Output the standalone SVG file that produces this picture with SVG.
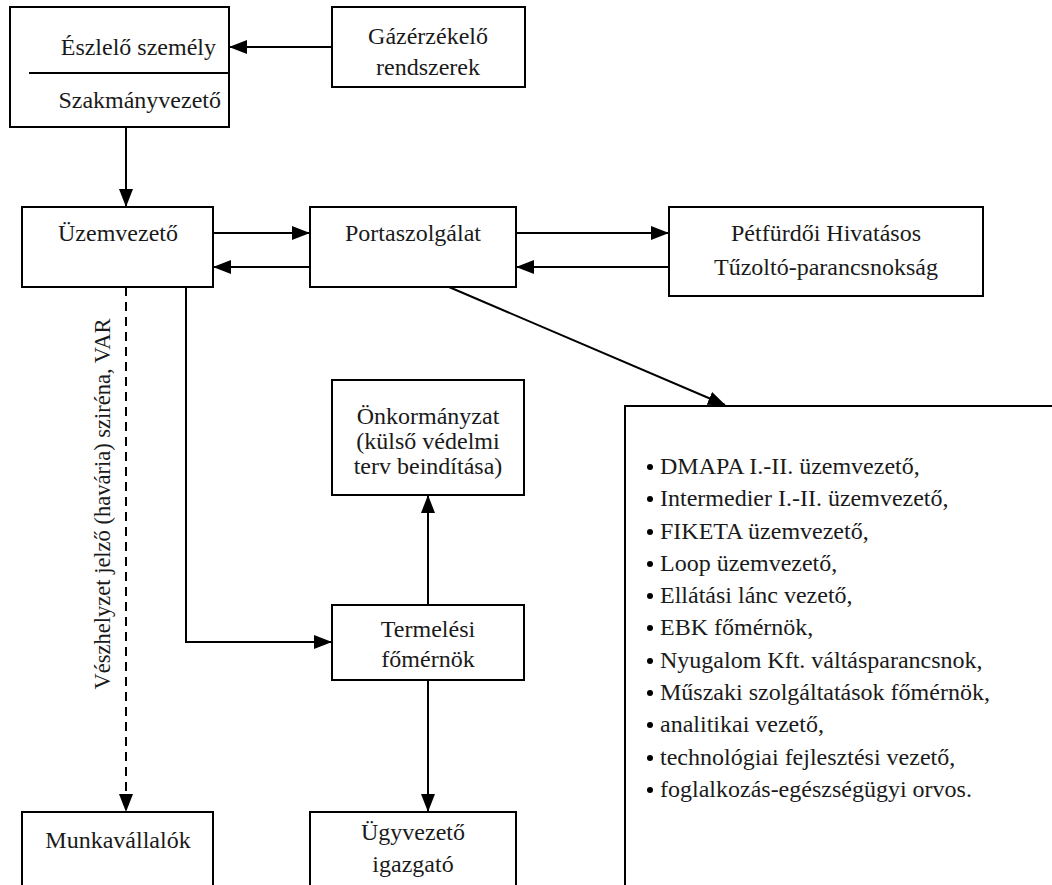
<svg xmlns="http://www.w3.org/2000/svg" width="1052" height="885" viewBox="0 0 1052 885" font-family="Liberation Serif, Times New Roman, serif">
<style>
.box{fill:#fff;stroke:#000;stroke-width:2}
.t{font-family:'Liberation Serif','Times New Roman',serif;font-size:24px;fill:#1a1a1a}
.m{text-anchor:middle}
.e{text-anchor:end}
.c{fill:none;stroke:#000;stroke-width:2}
.d{stroke-dasharray:9,6}
</style>
<defs>
<marker id="ah" markerUnits="userSpaceOnUse" markerWidth="18" markerHeight="16" refX="17" refY="8" orient="auto">
<path d="M0,1 L18,8 L0,15 Z" fill="#000"/>
</marker>
</defs>
<rect width="1052" height="885" fill="#fff"/>
<g id="connectors">
<line class="c" x1="332" y1="47" x2="230" y2="47" marker-end="url(#ah)"/>
<line class="c" x1="126" y1="127" x2="126" y2="206" marker-end="url(#ah)"/>
<line class="c" x1="213" y1="233" x2="309" y2="233" marker-end="url(#ah)"/>
<line class="c" x1="310" y1="267" x2="214" y2="267" marker-end="url(#ah)"/>
<line class="c" x1="516" y1="233" x2="668" y2="233" marker-end="url(#ah)"/>
<line class="c" x1="669" y1="267" x2="517" y2="267" marker-end="url(#ah)"/>
<line class="c" x1="449" y1="287" x2="725" y2="405" marker-end="url(#ah)"/>
<line class="c d" x1="126" y1="287" x2="126" y2="811" marker-end="url(#ah)"/>
<polyline class="c" points="186,287 186,642 331,642" marker-end="url(#ah)"/>
<line class="c" x1="428" y1="605" x2="428" y2="496" marker-end="url(#ah)"/>
<line class="c" x1="428" y1="680" x2="428" y2="811" marker-end="url(#ah)"/>
<text class="t m" style="font-size:22.5px" transform="translate(110,504) rotate(-90)">Vészhelyzet jelző (havária) sziréna, VAR</text>
</g>
<g id="eszlelo">
<rect class="box" x="10" y="7" width="219" height="120"/>
<line class="c" x1="29" y1="73" x2="229" y2="73"/>
<text class="t e" x="216" y="55">Észlelő személy</text>
<text class="t e" x="221" y="108">Szakmányvezető</text>
</g>
<g id="gazerzekelo">
<rect class="box" x="332" y="7" width="193" height="80"/>
<text class="t m" x="428" y="44">Gázérzékelő</text>
<text class="t m" x="428" y="75">rendszerek</text>
</g>
<g id="uzemvezeto">
<rect class="box" x="22" y="207" width="191" height="80"/>
<text class="t m" x="118" y="241">Üzemvezető</text>
</g>
<g id="portaszolgalat">
<rect class="box" x="310" y="207" width="206" height="80"/>
<text class="t m" x="413" y="241">Portaszolgálat</text>
</g>
<g id="petfurdoi">
<rect class="box" x="669" y="207" width="314" height="89"/>
<text class="t m" x="826" y="241">Pétfürdői Hivatásos</text>
<text class="t m" x="826" y="275">Tűzoltó-parancsnokság</text>
</g>
<g id="onkormanyzat">
<rect class="box" x="332" y="380" width="192" height="115"/>
<text class="t m" x="428" y="424">Önkormányzat</text>
<text class="t m" x="428" y="449">(külső védelmi</text>
<text class="t m" x="428" y="474">terv beindítása)</text>
</g>
<g id="termelesi">
<rect class="box" x="332" y="605" width="192" height="75"/>
<text class="t m" x="428" y="637">Termelési</text>
<text class="t m" x="428" y="667">főmérnök</text>
</g>
<g id="munkavallalok">
<rect class="box" x="22" y="812" width="191" height="80"/>
<text class="t m" x="118" y="848">Munkavállalók</text>
</g>
<g id="ugyvezeto">
<rect class="box" x="310" y="812" width="206" height="80"/>
<text class="t m" x="413" y="840">Ügyvezető</text>
<text class="t m" x="413" y="872">igazgató</text>
</g>
<g id="lista">
<path class="c" d="M1053,406 H625 V886"/>
<g fill="#000">
<circle cx="650" cy="467" r="3"/>
<circle cx="650" cy="499" r="3"/>
<circle cx="650" cy="532" r="3"/>
<circle cx="650" cy="564" r="3"/>
<circle cx="650" cy="596" r="3"/>
<circle cx="650" cy="628" r="3"/>
<circle cx="650" cy="661" r="3"/>
<circle cx="650" cy="693" r="3"/>
<circle cx="650" cy="725" r="3"/>
<circle cx="650" cy="758" r="3"/>
<circle cx="650" cy="790" r="3"/>
</g>
<text class="t" x="660" y="474">DMAPA I.-II. üzemvezető,</text>
<text class="t" x="660" y="506">Intermedier I.-II. üzemvezető,</text>
<text class="t" x="660" y="539">FIKETA üzemvezető,</text>
<text class="t" x="660" y="571">Loop üzemvezető,</text>
<text class="t" x="660" y="603">Ellátási lánc vezető,</text>
<text class="t" x="660" y="635">EBK főmérnök,</text>
<text class="t" x="660" y="668">Nyugalom Kft. váltásparancsnok,</text>
<text class="t" x="660" y="700">Műszaki szolgáltatások főmérnök,</text>
<text class="t" x="660" y="732">analitikai vezető,</text>
<text class="t" x="660" y="765">technológiai fejlesztési vezető,</text>
<text class="t" x="660" y="797">foglalkozás-egészségügyi orvos.</text>
</g>
</svg>
